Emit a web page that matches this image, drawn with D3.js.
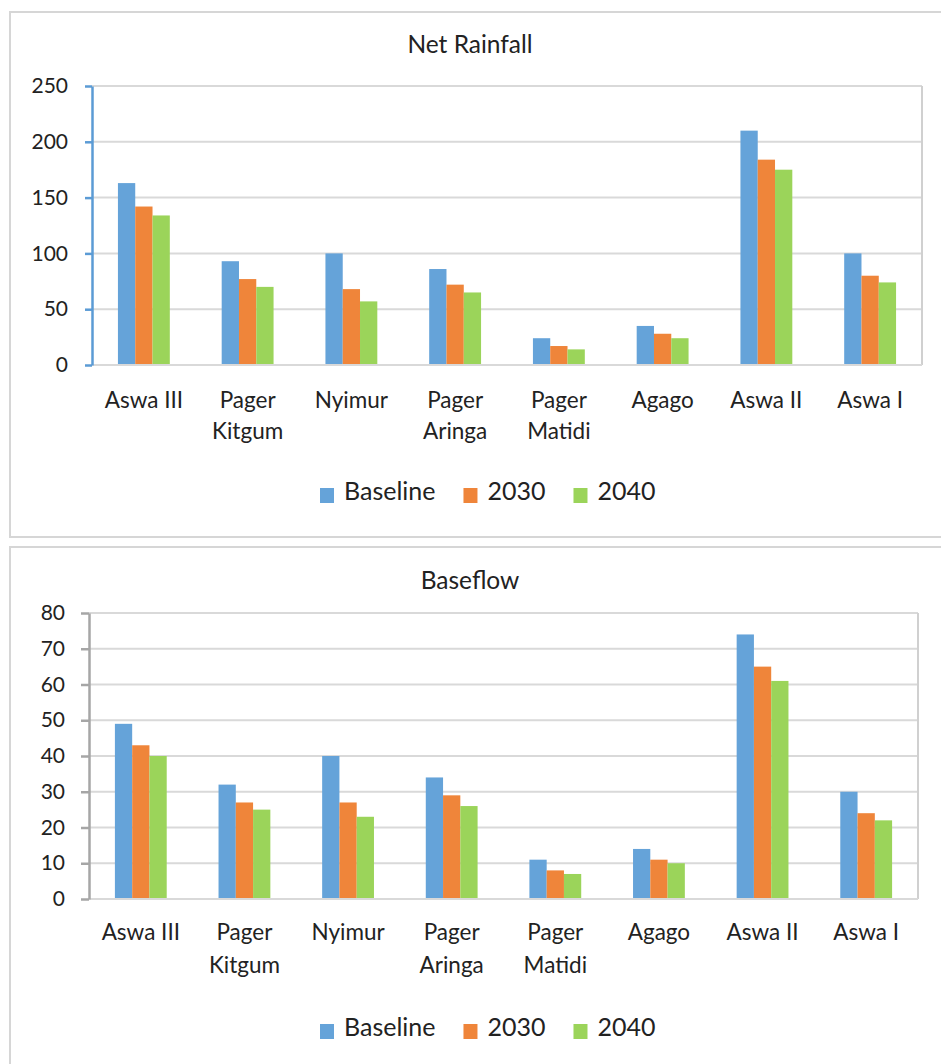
<!DOCTYPE html>
<html>
<head>
<meta charset="utf-8">
<script src="https://cdn.jsdelivr.net/npm/d3@7"></script>
<style>
  html, body { margin: 0; padding: 0; background: #ffffff; }
  svg { display: block; }
  text { font-family: Lato, "Open Sans", sans-serif; fill: #222; }
</style>
</head>
<body>
<svg id="chart" width="941" height="1064"></svg>
<script>
// Sub-basins along the x axis
const categories = ["Aswa III", "Pager Kitgum", "Nyimur", "Pager Aringa", "Pager Matidi", "Agago", "Aswa II", "Aswa I"];
const seriesNames = ["Baseline", "2030", "2040"];
const seriesColors = ["#65a3d9", "#ef853a", "#9bd45a"];

// Net rainfall per sub-basin
const rainBaseline = [163, 93, 100, 86, 24, 35, 210, 100];
const rain2030 = [142, 77, 68, 72, 17, 28, 184, 80];
const rain2040 = [134, 70, 57, 65, 14, 24, 175, 74];
const rainTicks = [0, 50, 100, 150, 200, 250];

// Baseflow per sub-basin
const flowBaseline = [49, 32, 40, 34, 11, 14, 74, 30];
const flow2030 = [43, 27, 27, 29, 8, 11, 65, 24];
const flow2040 = [40, 25, 23, 26, 7, 10, 61, 22];
const flowTicks = [0, 10, 20, 30, 40, 50, 60, 70, 80];

const svg = d3.select("#chart");

function drawPanel(opt) {
  const g = svg.append("g");

  // panel frame
  g.append("rect")
    .attr("x", opt.frame[0]).attr("y", opt.frame[1])
    .attr("width", opt.frame[2]).attr("height", opt.frame[3])
    .attr("fill", "#fff").attr("stroke", "#d6d6d6").attr("stroke-width", 2);

  const [x0, y0, x1, y1] = opt.plot;
  const x = d3.scaleBand().domain(categories).range([x0, x1])
    .paddingInner(0.5).paddingOuter(0.25);
  const xs = d3.scaleBand().domain(seriesNames).range([0, x.bandwidth()]);
  const y = d3.scaleLinear().domain([0, d3.max(opt.ticks)]).range([y1, y0]);

  // title
  g.append("text")
    .attr("x", opt.titleX).attr("y", opt.titleY)
    .attr("text-anchor", "middle")
    .style("font-size", "24.5px")
    .text(opt.title);

  // horizontal gridlines
  g.append("g")
    .selectAll("line").data(opt.ticks).join("line")
    .attr("x1", x0).attr("x2", x1)
    .attr("y1", d => y(d)).attr("y2", d => y(d))
    .attr("stroke", "#d9d9d9").attr("stroke-width", 2);

  // right border of the plot area
  g.append("line")
    .attr("x1", x1).attr("x2", x1).attr("y1", y0).attr("y2", y1)
    .attr("stroke", "#d0d0d0").attr("stroke-width", 2);

  // bars
  const rows = categories.map((c, i) => ({ c, vals: opt.series.map((s, k) => ({ k, v: s[i] })) }));
  g.append("g")
    .selectAll("g").data(rows).join("g")
    .attr("transform", d => `translate(${x(d.c)},0)`)
    .selectAll("rect").data(d => d.vals).join("rect")
    .attr("x", d => xs(seriesNames[d.k]))
    .attr("width", xs.bandwidth())
    .attr("y", d => y(d.v))
    .attr("height", d => y(0) - y(d.v))
    .attr("fill", d => seriesColors[d.k]);

  // baseline (zero) line
  g.append("line")
    .attr("x1", x0).attr("x2", x1).attr("y1", y(0)).attr("y2", y(0))
    .attr("stroke", "#d9d9d9").attr("stroke-width", 2);

  // value axis
  const ay = g.append("g")
    .attr("transform", `translate(${x0},0)`)
    .call(d3.axisLeft(y).tickValues(opt.ticks).tickSize(opt.tickLen).tickPadding(opt.tickPad).tickSizeOuter(0));
  ay.select(".domain").attr("stroke", opt.axisColor).attr("stroke-width", 2.5);
  ay.selectAll(".tick line").attr("stroke", opt.axisColor).attr("stroke-width", 2.5);
  ay.selectAll(".tick text")
    .style("font-family", "Lato, 'Open Sans', sans-serif")
    .style("font-size", "21px").attr("fill", "#222");

  // category labels, wrapped to the band
  const step = x.step();
  const labels = g.append("g").selectAll("text").data(categories).join("text")
    .attr("text-anchor", "middle")
    .attr("x", d => x(d) + x.bandwidth() / 2)
    .attr("y", opt.labelY)
    .style("font-size", "22.5px");
  labels.each(function (d) {
    const t = d3.select(this);
    t.text(d);
    if (this.getComputedTextLength() > step * 0.92 && d.includes(" ")) {
      const words = d.split(" ");
      t.text(null);
      words.forEach((w, i) => {
        t.append("tspan")
          .attr("x", x(d) + x.bandwidth() / 2)
          .attr("y", opt.labelY + i * opt.lineGap)
          .text(w);
      });
    }
  });

  // legend
  const leg = g.append("g");
  let lx = opt.legendX;
  seriesNames.forEach((name, k) => {
    leg.append("rect")
      .attr("x", lx).attr("y", opt.legendY - 12)
      .attr("width", 14).attr("height", 15)
      .attr("fill", seriesColors[k]);
    const t = leg.append("text")
      .attr("x", lx + 24).attr("y", opt.legendY)
      .style("font-size", "25px")
      .text(name);
    lx += 24 + t.node().getComputedTextLength() + 28;
  });
}

drawPanel({
  title: "Net Rainfall",
  series: [rainBaseline, rain2030, rain2040],
  ticks: rainTicks,
  frame: [10, 12, 945, 525],
  plot: [92, 86, 922, 365],
  titleX: 470, titleY: 53,
  axisColor: "#5b9bd5",
  tickLen: 7, tickPad: 17,
  labelY: 408, lineGap: 31,
  legendX: 320, legendY: 500
});

drawPanel({
  title: "Baseflow",
  series: [flowBaseline, flow2030, flow2040],
  ticks: flowTicks,
  frame: [10, 547, 945, 530],
  plot: [89, 613, 918, 899],
  titleX: 470, titleY: 589,
  axisColor: "#a6a6a6",
  tickLen: 8, tickPad: 16,
  labelY: 940, lineGap: 33,
  legendX: 320, legendY: 1036
});
</script>
</body>
</html>
